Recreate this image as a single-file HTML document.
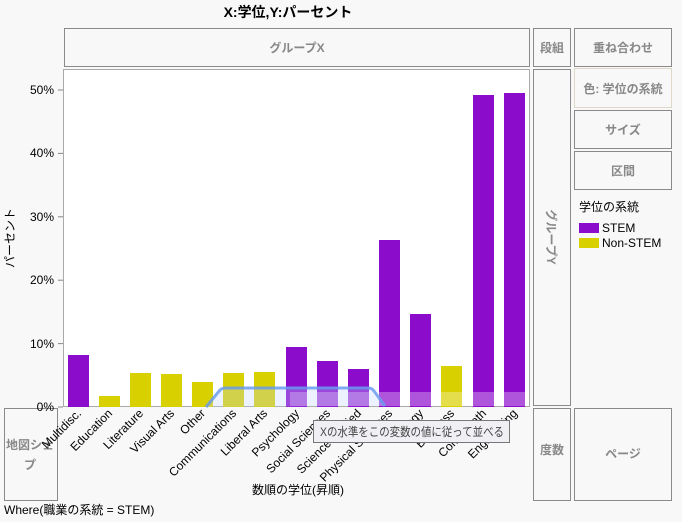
<!DOCTYPE html>
<html><head><meta charset="utf-8"><style>
body{margin:0;background:#f8f8f8;}
svg{display:block;font-family:"Liberation Sans","Noto Sans CJK JP",sans-serif;}
.g{fill:#888;font-size:12px;font-weight:bold;}
</style></head><body>
<svg width="682" height="522" viewBox="0 0 682 522">
<rect width="682" height="522" fill="#f8f8f8"/>
<text x="288" y="17" text-anchor="middle" font-size="14" font-weight="bold" fill="#000">X:学位,Y:パーセント</text>
<g fill="#f8f8f8" stroke="#8a8a8a" stroke-width="1">
<rect x="64.5" y="28.5" width="465" height="38"/>
<rect x="533.5" y="28.5" width="37" height="38"/>
<rect x="574.5" y="28.5" width="97" height="38"/>
<rect x="574.5" y="68.5" width="97" height="39" stroke="#ddd8c8"/>
<rect x="574.5" y="110.5" width="97" height="38"/>
<rect x="574.5" y="151.5" width="97" height="38"/>
<rect x="533.5" y="69.5" width="37" height="336"/>
<rect x="4.5" y="408.5" width="53" height="92"/>
<rect x="533.5" y="408.5" width="37" height="92"/>
<rect x="574.5" y="408.5" width="97" height="92"/>
</g>
<text class="g" x="297" y="52" text-anchor="middle">グループX</text>
<text class="g" x="552" y="52" text-anchor="middle">段組</text>
<text class="g" x="623" y="52" text-anchor="middle">重ね合わせ</text>
<text class="g" x="623" y="93" text-anchor="middle">色: 学位の系統</text>
<text class="g" x="623" y="134" text-anchor="middle">サイズ</text>
<text class="g" x="623" y="175" text-anchor="middle">区間</text>
<text class="g" x="552" y="454" text-anchor="middle">度数</text>
<text class="g" x="623" y="458" text-anchor="middle">ページ</text>
<text class="g" x="30" y="449" text-anchor="middle">地図シェ</text>
<text class="g" x="30" y="469" text-anchor="middle">プ</text>
<text class="g" transform="translate(547,237) rotate(90)" text-anchor="middle">グループY</text>
<text x="579" y="211" font-size="12" fill="#000">学位の系統</text>
<rect x="579" y="223" width="20" height="10" fill="#8c0ccc"/>
<text x="602" y="232" font-size="12" fill="#000">STEM</text>
<rect x="579" y="238" width="20" height="10" fill="#d9d000"/>
<text x="602" y="247" font-size="12" fill="#000">Non-STEM</text>
<rect x="63.5" y="69.5" width="466" height="337" fill="#fff" stroke="#aaa"/>
<g stroke="#888"><line x1="58" y1="90" x2="63" y2="90"/><line x1="58" y1="153.4" x2="63" y2="153.4"/><line x1="58" y1="216.8" x2="63" y2="216.8"/><line x1="58" y1="280.2" x2="63" y2="280.2"/><line x1="58" y1="343.6" x2="63" y2="343.6"/><line x1="58" y1="407" x2="63" y2="407"/></g>
<g font-size="12" fill="#000" text-anchor="end">
<text x="54" y="94">50%</text><text x="54" y="157">40%</text><text x="54" y="221">30%</text><text x="54" y="284">20%</text><text x="54" y="348">10%</text><text x="54" y="411">0%</text></g>
<text transform="translate(14,238) rotate(-90)" font-size="12" text-anchor="middle" fill="#000">パーセント</text>
<g>
<rect x="68" y="355" width="21" height="52" fill="#8c0ccc"/>
<rect x="99" y="396" width="21" height="11" fill="#d9d000"/>
<rect x="130" y="373" width="21" height="34" fill="#d9d000"/>
<rect x="161" y="374" width="21" height="33" fill="#d9d000"/>
<rect x="192" y="382" width="21" height="25" fill="#d9d000"/>
<rect x="223" y="373" width="21" height="34" fill="#d9d000"/>
<rect x="254" y="372" width="21" height="35" fill="#d9d000"/>
<rect x="286" y="347" width="21" height="60" fill="#8c0ccc"/>
<rect x="317" y="361" width="21" height="46" fill="#8c0ccc"/>
<rect x="348" y="369" width="21" height="38" fill="#8c0ccc"/>
<rect x="379" y="240" width="21" height="167" fill="#8c0ccc"/>
<rect x="410" y="314" width="21" height="93" fill="#8c0ccc"/>
<rect x="441" y="366" width="21" height="41" fill="#d9d000"/>
<rect x="473" y="95" width="21" height="312" fill="#8c0ccc"/>
<rect x="504" y="93" width="21" height="314" fill="#8c0ccc"/>
</g>
<rect x="290" y="392" width="239" height="14" fill="#fff" opacity="0.3"/>
<path d="M206,407 L220,390 Q222,388 226,388 L368,388 Q372,388 374,391 L385,406" fill="#c0d4ff" fill-opacity="0.35" stroke="#6a9cf0" stroke-width="3" opacity="0.85"/>
<g font-size="12" fill="#000" text-anchor="end">
<text transform="translate(82,414) rotate(-45)">Multidisc.</text>
<text transform="translate(113,414) rotate(-45)">Education</text>
<text transform="translate(144,414) rotate(-45)">Literature</text>
<text transform="translate(175,414) rotate(-45)">Visual Arts</text>
<text transform="translate(206,414) rotate(-45)">Other</text>
<text transform="translate(237,414) rotate(-45)">Communications</text>
<text transform="translate(268,414) rotate(-45)">Liberal Arts</text>
<text transform="translate(300,414) rotate(-45)">Psychology</text>
<text transform="translate(331,414) rotate(-45)">Social Sciences</text>
<text transform="translate(362,414) rotate(-45)">Science Applied</text>
<text transform="translate(393,414) rotate(-45)">Physical Sciences</text>
<text transform="translate(424,414) rotate(-45)">Biology</text>
<text transform="translate(455,414) rotate(-45)">Business</text>
<text transform="translate(487,414) rotate(-45)">Comp/Math</text>
<text transform="translate(518,414) rotate(-45)">Engineering</text>
</g>
<rect x="313.5" y="420.5" width="196" height="22" fill="#f0f0f4" stroke="#777"/>
<text x="320" y="436" font-size="12" fill="#444" textLength="184" lengthAdjust="spacingAndGlyphs">Xの水準をこの変数の値に従って並べる</text>
<text x="298" y="494" font-size="12" text-anchor="middle" fill="#000">数順の学位(昇順)</text>
<text x="4" y="514" font-size="12" fill="#000">Where(職業の系統 = STEM)</text>
</svg>
</body></html>
